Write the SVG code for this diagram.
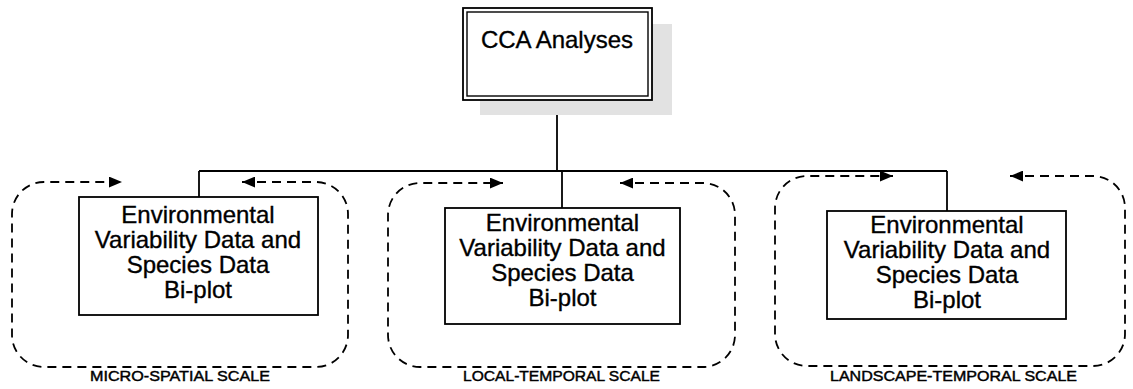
<svg xmlns="http://www.w3.org/2000/svg" width="1133" height="389" viewBox="0 0 1133 389">
<style>
.box{fill:#fff;stroke:#000;stroke-width:1.8}
.t{font-family:"Liberation Sans",Arial,sans-serif;font-size:24px;fill:#000;stroke:#000;stroke-width:0.35;text-anchor:middle}
.lab{font-family:"Liberation Sans",Arial,sans-serif;font-size:15px;fill:#000;stroke:#000;stroke-width:0.45;text-anchor:middle}
.ln{fill:none;stroke:#000;stroke-width:1.8}
.dash{fill:none;stroke:#000;stroke-width:1.8;stroke-dasharray:9 6}
</style>
<defs>
<marker id="ah" viewBox="0 0 12 10" refX="12" refY="5" markerWidth="13" markerHeight="11" markerUnits="userSpaceOnUse" orient="auto-start-reverse">
<path d="M0,0 L12,5 L0,10 z" fill="#000"/>
</marker>
</defs>
<rect width="1133" height="389" fill="#fff"/>

<g id="connectors">
<path class="ln" d="M557,100 V171"/>
<path class="ln" d="M199,171 H947"/>
<path class="ln" d="M199,171 V197"/>
<path class="ln" d="M562,171 V208"/>
<path class="ln" d="M947,171 V211"/>
</g>

<g id="cycles">
<path class="dash" marker-start="url(#ah)" marker-end="url(#ah)" d="M242,182 H316 A32,32 0 0 1 348,214 V335 A32,32 0 0 1 316,367 H44 A32,32 0 0 1 12,335 V214 A32,32 0 0 1 44,182 H122"/>
<path class="dash" marker-start="url(#ah)" marker-end="url(#ah)" d="M620,183 H703 A32,32 0 0 1 735,215 V335 A32,32 0 0 1 703,367 H420 A32,32 0 0 1 388,335 V215 A32,32 0 0 1 420,183 H503"/>
<path class="dash" marker-start="url(#ah)" marker-end="url(#ah)" d="M1010,176 H1093 A32,32 0 0 1 1125,208 V334 A32,32 0 0 1 1093,366 H807 A32,32 0 0 1 775,334 V208 A32,32 0 0 1 807,176 H893"/>
</g>

<g id="cca">
<rect x="480" y="24" width="192" height="91" fill="#e2e2e2"/>
<rect class="box" x="463" y="8" width="189" height="92"/>
<rect x="467" y="12" width="181" height="84" fill="none" stroke="#000" stroke-width="1.4"/>
<text class="t" x="557" y="48">CCA Analyses</text>
</g>

<g id="micro-spatial">
<rect class="box" x="79" y="197" width="239" height="118"/>
<text class="t" x="198" y="223">Environmental</text>
<text class="t" x="198" y="248">Variability Data and</text>
<text class="t" x="198" y="273">Species Data</text>
<text class="t" x="198" y="298">Bi-plot</text>
<text class="lab" x="180" y="381" textLength="180" lengthAdjust="spacingAndGlyphs">MICRO-SPATIAL SCALE</text>
</g>

<g id="local-temporal">
<rect class="box" x="445" y="208" width="235" height="116"/>
<text class="t" x="562.5" y="231">Environmental</text>
<text class="t" x="562.5" y="256">Variability Data and</text>
<text class="t" x="562.5" y="281">Species Data</text>
<text class="t" x="562.5" y="306">Bi-plot</text>
<text class="lab" x="561.5" y="381" textLength="197" lengthAdjust="spacingAndGlyphs">LOCAL-TEMPORAL SCALE</text>
</g>

<g id="landscape-temporal">
<rect class="box" x="827" y="211" width="239" height="108"/>
<text class="t" x="947" y="233">Environmental</text>
<text class="t" x="947" y="258">Variability Data and</text>
<text class="t" x="947" y="283">Species Data</text>
<text class="t" x="947" y="308">Bi-plot</text>
<text class="lab" x="953.5" y="381" textLength="247" lengthAdjust="spacingAndGlyphs">LANDSCAPE-TEMPORAL SCALE</text>
</g>
</svg>
